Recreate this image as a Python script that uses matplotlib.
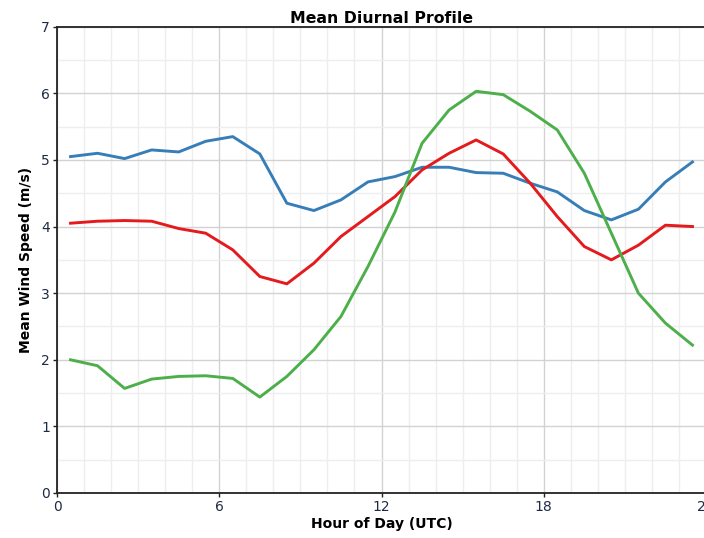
import numpy as np
import matplotlib
matplotlib.use('Agg')
import matplotlib.pyplot as plt
from matplotlib.ticker import MultipleLocator

# hour of day (bin centres) and the three mean profiles
hours = np.arange(0.5, 24, 1.0)
blue = [5.05, 5.10, 5.02, 5.15, 5.12, 5.28, 5.35, 5.09, 4.35, 4.24, 4.40, 4.67,
        4.75, 4.89, 4.89, 4.81, 4.80, 4.65, 4.52, 4.24, 4.10, 4.26, 4.67, 4.97]
red = [4.05, 4.08, 4.09, 4.08, 3.97, 3.90, 3.65, 3.25, 3.14, 3.45, 3.85, 4.15,
       4.45, 4.85, 5.10, 5.30, 5.09, 4.65, 4.15, 3.70, 3.50, 3.72, 4.02, 4.00]
green = [2.00, 1.91, 1.57, 1.71, 1.75, 1.76, 1.72, 1.44, 1.75, 2.15, 2.65, 3.40,
         4.22, 5.25, 5.75, 6.03, 5.98, 5.73, 5.45, 4.80, 3.90, 3.00, 2.55, 2.22]
xticks = [0, 6, 12, 18, 24]

fig = plt.figure(figsize=(7.04, 5.38), dpi=100)
# axes run past the right edge of the figure like the original
ax = fig.add_axes([57 / 704, 1 - 493 / 538, 649 / 704, 466.3 / 538])

ax.plot(hours, blue, color='#377eb8', lw=2.1)
ax.plot(hours, red, color='#e41a1c', lw=2.1)
ax.plot(hours, green, color='#4daf4a', lw=2.1)

ax.set_xlim(0, 24)
ax.set_ylim(0, 7)
ax.set_xticks(xticks)
ax.xaxis.set_minor_locator(MultipleLocator(1))
ax.yaxis.set_major_locator(MultipleLocator(1))
ax.yaxis.set_minor_locator(MultipleLocator(0.5))
ax.grid(True, which='major', color='#d2d2d2', lw=1.0)
ax.grid(True, which='minor', color='#eeeeee', lw=1.0)
ax.set_axisbelow(True)

for s in ['left', 'bottom', 'top']:
    ax.spines[s].set_color('#222222')
    ax.spines[s].set_linewidth(1.3)
ax.spines['right'].set_visible(False)
ax.tick_params(which='major', length=3, width=1, colors='#222222', labelsize=10, pad=2)
ax.tick_params(which='minor', length=0)
ax.tick_params(axis='x', labelcolor='#1f2a44')
ax.tick_params(axis='y', labelcolor='#1f2a44')

ax.set_title('Mean Diurnal Profile', fontsize=11.3, fontweight='bold', pad=3)
ax.set_xlabel('Hour of Day (UTC)', fontsize=10, fontweight='bold', labelpad=2)
ax.set_ylabel('Mean Wind Speed (m/s)', fontsize=10, fontweight='bold', labelpad=6)

fig.savefig('out.png', dpi=100)
